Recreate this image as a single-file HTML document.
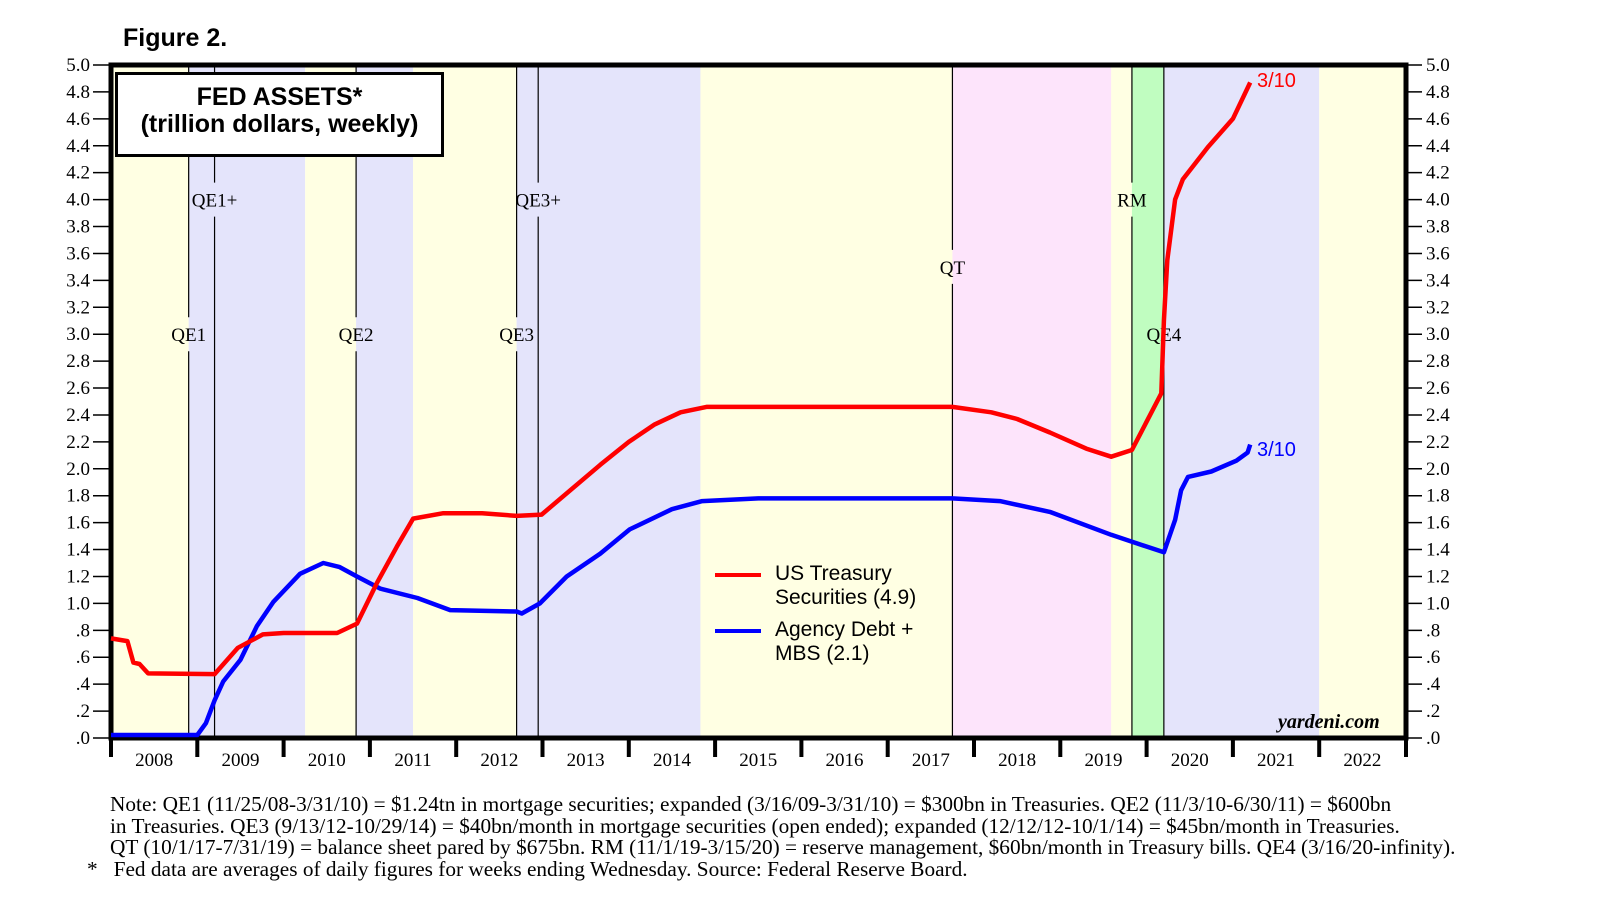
<!DOCTYPE html>
<html><head><meta charset="utf-8"><style>
body{margin:0;background:#fff;width:1610px;height:910px;overflow:hidden}
svg{display:block}
.t{font-family:"Liberation Serif",serif;font-size:19px;fill:#000}
.s{font-family:"Liberation Sans",sans-serif}
</style></head><body>
<svg id="c" width="1610" height="910"></svg>
<script>
const years=[2008,2009,2010,2011,2012,2013,2014,2015,2016,2017,2018,2019,2020,2021,2022];
const yTicks=[0,0.2,0.4,0.6,0.8,1.0,1.2,1.4,1.6,1.8,2.0,2.2,2.4,2.6,2.8,3.0,3.2,3.4,3.6,3.8,4.0,4.2,4.4,4.6,4.8,5.0];
const yTickLabels=[".0",".2",".4",".6",".8","1.0","1.2","1.4","1.6","1.8","2.0","2.2","2.4","2.6","2.8","3.0","3.2","3.4","3.6","3.8","4.0","4.2","4.4","4.6","4.8","5.0"];
const bandStarts=[2008,2008.9,2010.25,2010.84,2011.5,2012.7,2014.83,2017.75,2019.59,2019.83,2020.2,2022];
const bandEnds=[2008.9,2010.25,2010.84,2011.5,2012.7,2014.83,2017.75,2019.59,2019.83,2020.2,2022,2023];
const bandColors=["#ffffe3","#e4e4fb","#ffffe3","#e4e4fb","#ffffe3","#e4e4fb","#ffffe3","#fde4fb","#ffffe3","#c0fdc0","#e4e4fb","#ffffe3"];
const eventNames=["QE1","QE1+","QE2","QE3","QE3+","QT","RM","QE4"];
const eventDates=[2008.9,2009.2,2010.84,2012.7,2012.95,2017.75,2019.83,2020.2];
const eventLabelVals=[3.0,4.0,3.0,3.0,4.0,3.5,4.0,3.0];
const tsyYears=[2008,2008.19,2008.26,2008.33,2008.43,2009.2,2009.47,2009.76,2010.0,2010.62,2010.85,2011.08,2011.31,2011.5,2011.85,2012.3,2012.7,2012.99,2013.67,2014.0,2014.3,2014.6,2014.9,2016,2017.75,2018.2,2018.5,2018.88,2019.3,2019.59,2019.83,2020.0,2020.17,2020.2,2020.24,2020.33,2020.42,2020.71,2021.0,2021.2];
const tsyVals=[0.74,0.72,0.56,0.55,0.48,0.475,0.67,0.77,0.78,0.78,0.85,1.15,1.42,1.63,1.67,1.67,1.65,1.66,2.03,2.2,2.33,2.42,2.46,2.46,2.46,2.42,2.37,2.27,2.15,2.09,2.14,2.35,2.56,3.1,3.55,4.0,4.15,4.39,4.6,4.87];
const mbsYears=[2008,2009.0,2009.1,2009.2,2009.3,2009.5,2009.69,2009.88,2010.19,2010.46,2010.65,2010.85,2011.12,2011.55,2011.93,2012.7,2012.76,2012.97,2013.28,2013.67,2014.01,2014.5,2014.85,2015.5,2016.5,2017.75,2018.3,2018.88,2019.59,2020.2,2020.33,2020.4,2020.48,2020.75,2021.04,2021.17,2021.2];
const mbsVals=[0,0,0.11,0.28,0.42,0.58,0.83,1.01,1.22,1.30,1.27,1.20,1.11,1.04,0.95,0.94,0.925,1.0,1.2,1.37,1.55,1.7,1.76,1.78,1.78,1.78,1.76,1.68,1.51,1.38,1.62,1.84,1.94,1.98,2.06,2.12,2.18];

const X0=111,XW=86.3,Y0=738,YH=134.6;
const xs=y=>X0+(y-2008)*XW, ys=v=>Y0-v*YH;
const svg=document.getElementById('c'),NS="http://www.w3.org/2000/svg";
function mk(tag,at,txt){const e=document.createElementNS(NS,tag);for(const k in at)e.setAttribute(k,at[k]);if(txt!==undefined)e.textContent=txt;svg.appendChild(e);return e;}
const R=1406;
bandStarts.forEach((s,i)=>{const e=Math.min(bandEnds[i],2023);
 const r=mk('rect',{x:xs(s),y:65,width:Math.min(xs(e),R)-xs(s),height:Y0-65,fill:bandColors[i]});
 
 });
eventDates.forEach((d,i)=>{const x=xs(d),ly=ys(eventLabelVals[i]);
 const l=mk('path',{d:`M${x},65V${ly-17}M${x},${ly+17}V${Y0}`,stroke:'#000','stroke-width':1.2});
 
 
 const t=mk('text',{x:x,y:ly+7,'text-anchor':'middle',class:'t'},eventNames[i]);
 
 });
// frame
const fr=mk('rect',{x:111,y:65,width:R-111,height:Y0-65,fill:'none',stroke:'#000','stroke-width':5});


function line(xa,va,col,name){const d=xa.map((y,i)=>(i?'L':'M')+xs(y).toFixed(1)+','+Math.min(ys(va[i]),Y0-3).toFixed(1)).join('');
 const p=mk('path',{d:d,fill:'none',stroke:col,'stroke-width':4.5,'stroke-linejoin':'round'});
 
 }
line(mbsYears,mbsVals,'#0000ff','agency-mbs-line');
line(tsyYears,tsyVals,'#ff0000','treasury-line');
yTicks.forEach((v,i)=>{const y=ys(v);
 mk('path',{d:`M93,${y}H111M${R},${y}H1422`,stroke:'#000','stroke-width':1.5});
 const a=mk('text',{x:90,y:y+6,'text-anchor':'end',class:'t'},yTickLabels[i]);
 
 
 const b=mk('text',{x:1426,y:y+6,class:'t'},yTickLabels[i]);
 
 });
years.forEach((yr,i)=>{mk('path',{d:`M${xs(yr)},${Y0}V757`,stroke:'#000','stroke-width':4});
 const t=mk('text',{x:xs(yr+0.5),y:766,'text-anchor':'middle',class:'t'},String(yr));
 
 });
mk('path',{d:`M${R},${Y0}V757`,stroke:'#000','stroke-width':4});
</script>
<div class="s" style="position:absolute;left:123px;top:24px;font:bold 25px 'Liberation Sans',sans-serif">Figure 2.</div>
<div style="position:absolute;left:115px;top:72px;width:323px;border:3px solid #000;background:#fff;text-align:center;font:bold 25px/27px 'Liberation Sans',sans-serif;padding-top:9px;box-sizing:content-box;height:70px">FED ASSETS*<br>(trillion dollars, weekly)</div>
<div style="position:absolute;left:715px;top:562px;font:21px/24px 'Liberation Sans',sans-serif">
 <div style="position:relative;padding-left:60px"><span style="position:absolute;left:0;top:11px;width:46px;height:4px;background:#f00"></span>US Treasury<br>Securities (4.9)</div>
 <div style="position:relative;padding-left:60px;margin-top:8px"><span style="position:absolute;left:0;top:11px;width:46px;height:4px;background:#00f"></span>Agency Debt +<br>MBS (2.1)</div>
</div>
<div style="position:absolute;left:1257px;top:70px;color:#f00;font:20px 'Liberation Sans',sans-serif">3/10</div>
<div style="position:absolute;left:1257px;top:439px;color:#00f;font:20px 'Liberation Sans',sans-serif">3/10</div>
<div style="position:absolute;left:1278px;top:711px;font:italic bold 20px 'Liberation Serif',serif">yardeni.com</div>
<div style="position:absolute;left:110px;top:794px;font:21.3px/21.5px 'Liberation Serif',serif;white-space:nowrap">Note: QE1 (11/25/08-3/31/10) = $1.24tn in mortgage securities; expanded (3/16/09-3/31/10) = $300bn in Treasuries. QE2 (11/3/10-6/30/11) = $600bn<br>in Treasuries. QE3 (9/13/12-10/29/14) = $40bn/month in mortgage securities (open ended); expanded (12/12/12-10/1/14) = $45bn/month in Treasuries.<br>QT (10/1/17-7/31/19) = balance sheet pared by $675bn. RM (11/1/19-3/15/20) = reserve management, $60bn/month in Treasury bills. QE4 (3/16/20-infinity).</div>
<div style="position:absolute;left:87px;top:858.5px;font:21.3px/21.5px 'Liberation Serif',serif;white-space:nowrap">*&nbsp;&nbsp;&nbsp;Fed data are averages of daily figures for weeks ending Wednesday. Source: Federal Reserve Board.</div>
</body></html>
